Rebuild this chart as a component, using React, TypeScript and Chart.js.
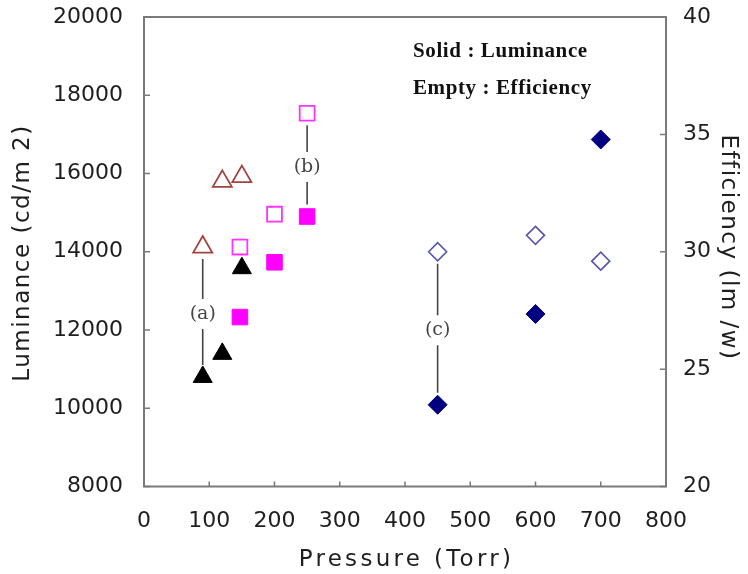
import React, { useEffect, useRef } from "react";
import { Chart, registerables } from "chart.js";

Chart.register(...registerables);

// ---- data ----
const triPressure = [90, 120, 150];
const triLuminance = [10800, 11390, 13580];
const triEfficiency = [30.2, 33.0, 33.2];

const sqPressure = [147, 200, 250];
const sqLuminance = [12330, 13730, 14900];
const sqEfficiency = [30.2, 31.6, 35.9];

const diaPressure = [450, 600, 700];
const diaLuminance = [10090, 12410, 16870];
const diaEfficiency = [30.0, 30.7, 29.6];

const annoLabels = ["(a)", "(b)", "(c)"];
const annoPressure = [triPressure[0], sqPressure[2], diaPressure[0]];
const annoTopEfficiency = [triEfficiency[0], sqEfficiency[2], diaEfficiency[0]];
const annoBottomLuminance = [triLuminance[0], sqLuminance[2], diaLuminance[0]];

const legendLines = ["Solid : Luminance", "Empty : Efficiency"];

const xTitle = "Pressure (Torr)";
const yTitle = "Luminance (cd/m 2)";
const y1Title = "Efficiency (lm /w)";

const pts = (xs: number[], ys: number[]) => xs.map((x, i) => ({ x, y: ys[i] }));
const plain = (v: any) => String(v);

const TICK_FONT = { family: "'DejaVu Sans', sans-serif", size: 22 };
const TITLE_CSS = "23px 'DejaVu Sans', sans-serif";
const TEXT_COLOR = "#1e1e1e";
const FRAME = "#7a7a7a";
const AREA_TOP = 17;

const decorPlugin = {
  id: "decor",
  afterLayout(chart: any) {
    const a = chart.chartArea;
    if (Math.abs(a.top - AREA_TOP) > 0.5) {
      a.top = AREA_TOP;
      a.height = a.bottom - AREA_TOP;
      ["y", "y1"].forEach((id) => {
        const s = chart.scales[id];
        s.top = AREA_TOP;
        s.height = s.bottom - AREA_TOP;
        s.configure();
      });
    }
  },
  afterDatasetsDraw(chart: any) {
    const { ctx, chartArea: a, scales, width, height } = chart;
    const xs = scales.x, ys = scales.y, y1 = scales.y1;
    ctx.save();
    // frame
    ctx.strokeStyle = FRAME;
    ctx.lineWidth = 2;
    ctx.strokeRect(a.left, a.top, a.right - a.left, a.bottom - a.top);
    // inner ticks
    ctx.lineWidth = 1.5;
    ctx.beginPath();
    xs.ticks.forEach((t: any) => {
      const px = xs.getPixelForValue(t.value);
      ctx.moveTo(px, a.bottom);
      ctx.lineTo(px, a.bottom - 5);
    });
    ys.ticks.forEach((t: any) => {
      const py = ys.getPixelForValue(t.value);
      ctx.moveTo(a.left, py);
      ctx.lineTo(a.left + 6, py);
    });
    y1.ticks.forEach((t: any) => {
      const py = y1.getPixelForValue(t.value);
      ctx.moveTo(a.right, py);
      ctx.lineTo(a.right - 6, py);
    });
    ctx.stroke();

    // annotations
    ctx.strokeStyle = "#444";
    ctx.fillStyle = "#444";
    ctx.lineWidth = 1.6;
    ctx.font = "19px 'DejaVu Serif', serif";
    ctx.textAlign = "center";
    ctx.textBaseline = "middle";
    annoLabels.forEach((lab, i) => {
      const px = xs.getPixelForValue(annoPressure[i]);
      const top = y1.getPixelForValue(annoTopEfficiency[i]) + 12;
      const bot = ys.getPixelForValue(annoBottomLuminance[i]) - 12;
      const mid = (top + bot) / 2 + 2;
      ctx.beginPath();
      ctx.moveTo(px, top);
      ctx.lineTo(px, mid - 15);
      ctx.moveTo(px, mid + 15);
      ctx.lineTo(px, bot);
      ctx.stroke();
      ctx.fillText(lab, px, mid);
    });

    // legend text
    ctx.fillStyle = "#111";
    ctx.font = "bold 21px 'Liberation Serif', serif";
    ctx.textAlign = "left";
    try { (ctx as any).letterSpacing = "0.6px"; } catch (e) {}
    legendLines.forEach((t, i) => {
      ctx.fillText(t, a.left + 269, a.top + 35 + i * 37);
    });

    // axis titles (letter-spaced)
    ctx.fillStyle = TEXT_COLOR;
    ctx.font = TITLE_CSS;
    ctx.textAlign = "center";
    const cx = (a.left + a.right) / 2;
    const cy = (a.top + a.bottom) / 2;
    try { (ctx as any).letterSpacing = "3.3px"; } catch (e) {}
    ctx.textBaseline = "alphabetic";
    ctx.fillText(xTitle, cx + 1.5, height - 8);

    try { (ctx as any).letterSpacing = "1.5px"; } catch (e) {}
    ctx.textBaseline = "middle";
    ctx.save();
    ctx.translate(23, cy + 2);
    ctx.rotate(-Math.PI / 2);
    ctx.fillText(yTitle, 0.75, 0);
    ctx.restore();

    ctx.save();
    ctx.translate(width - 20, cy - 5);
    ctx.rotate(Math.PI / 2);
    ctx.fillText(y1Title, 0.75, 0);
    ctx.restore();

    ctx.restore();
  },
};

export default function App() {
  const ref = useRef<HTMLCanvasElement>(null);
  useEffect(() => {
    const chart = new Chart(ref.current!, {
      type: "scatter",
      data: {
        datasets: [
          {
            label: "Luminance (a)",
            data: pts(triPressure, triLuminance),
            yAxisID: "y",
            pointStyle: "triangle",
            pointRadius: 11,
            backgroundColor: "#000",
            borderColor: "#000",
            borderWidth: 1,
          },
          {
            label: "Efficiency (a)",
            data: pts(triPressure, triEfficiency),
            yAxisID: "y1",
            pointStyle: "triangle",
            pointRadius: 11,
            backgroundColor: "#fff",
            borderColor: "#a3433f",
            borderWidth: 1.8,
          },
          {
            label: "Luminance (b)",
            data: pts(sqPressure, sqLuminance),
            yAxisID: "y",
            pointStyle: "rect",
            pointRadius: 11,
            backgroundColor: "#ff00ff",
            borderColor: "#ff00ff",
            borderWidth: 1,
          },
          {
            label: "Efficiency (b)",
            data: pts(sqPressure, sqEfficiency),
            yAxisID: "y1",
            pointStyle: "rect",
            pointRadius: 10.5,
            backgroundColor: "#fff",
            borderColor: "#ff33ff",
            borderWidth: 1.8,
          },
          {
            label: "Luminance (c)",
            data: pts(diaPressure, diaLuminance),
            yAxisID: "y",
            pointStyle: "rectRot",
            pointRadius: 9.5,
            backgroundColor: "#000080",
            borderColor: "#000080",
            borderWidth: 1,
          },
          {
            label: "Efficiency (c)",
            data: pts(diaPressure, diaEfficiency),
            yAxisID: "y1",
            pointStyle: "rectRot",
            pointRadius: 9,
            backgroundColor: "#fff",
            borderColor: "#5555b0",
            borderWidth: 1.6,
          },
        ],
      },
      options: {
        responsive: true,
        maintainAspectRatio: false,
        animation: false,
        layout: { autoPadding: false, padding: { top: AREA_TOP, left: 0, right: 0, bottom: 0 } },
        plugins: { legend: { display: false }, tooltip: { enabled: false } },
        scales: {
          x: {
            type: "linear",
            min: 0,
            max: 800,
            ticks: { stepSize: 100, font: TICK_FONT, color: TEXT_COLOR, padding: 22, maxRotation: 0, callback: plain },
            grid: { display: false, drawTicks: false },
            border: { display: false },
            title: { display: false, text: xTitle },
            afterFit: (s: any) => { s.height = 87.5; },
          },
          y: {
            type: "linear",
            position: "left",
            min: 8000,
            max: 20000,
            ticks: { stepSize: 2000, font: TICK_FONT, color: TEXT_COLOR, padding: 21, callback: plain },
            grid: { display: false, drawTicks: false },
            border: { display: false },
            title: { display: false, text: yTitle },
            afterFit: (s: any) => { s.width = 144; },
          },
          y1: {
            type: "linear",
            position: "right",
            min: 20,
            max: 40,
            ticks: { stepSize: 5, font: TICK_FONT, color: TEXT_COLOR, padding: 17, callback: plain },
            grid: { display: false, drawTicks: false },
            border: { display: false },
            title: { display: false, text: y1Title },
            afterFit: (s: any) => { s.width = 82; },
          },
        },
      },
      plugins: [decorPlugin],
    } as any);
    return () => chart.destroy();
  }, []);
  return (
    <div style={{ position: "fixed", left: 0, top: 0, width: 748, height: 574, background: "#fff" }}>
      <canvas ref={ref} />
    </div>
  );
}
